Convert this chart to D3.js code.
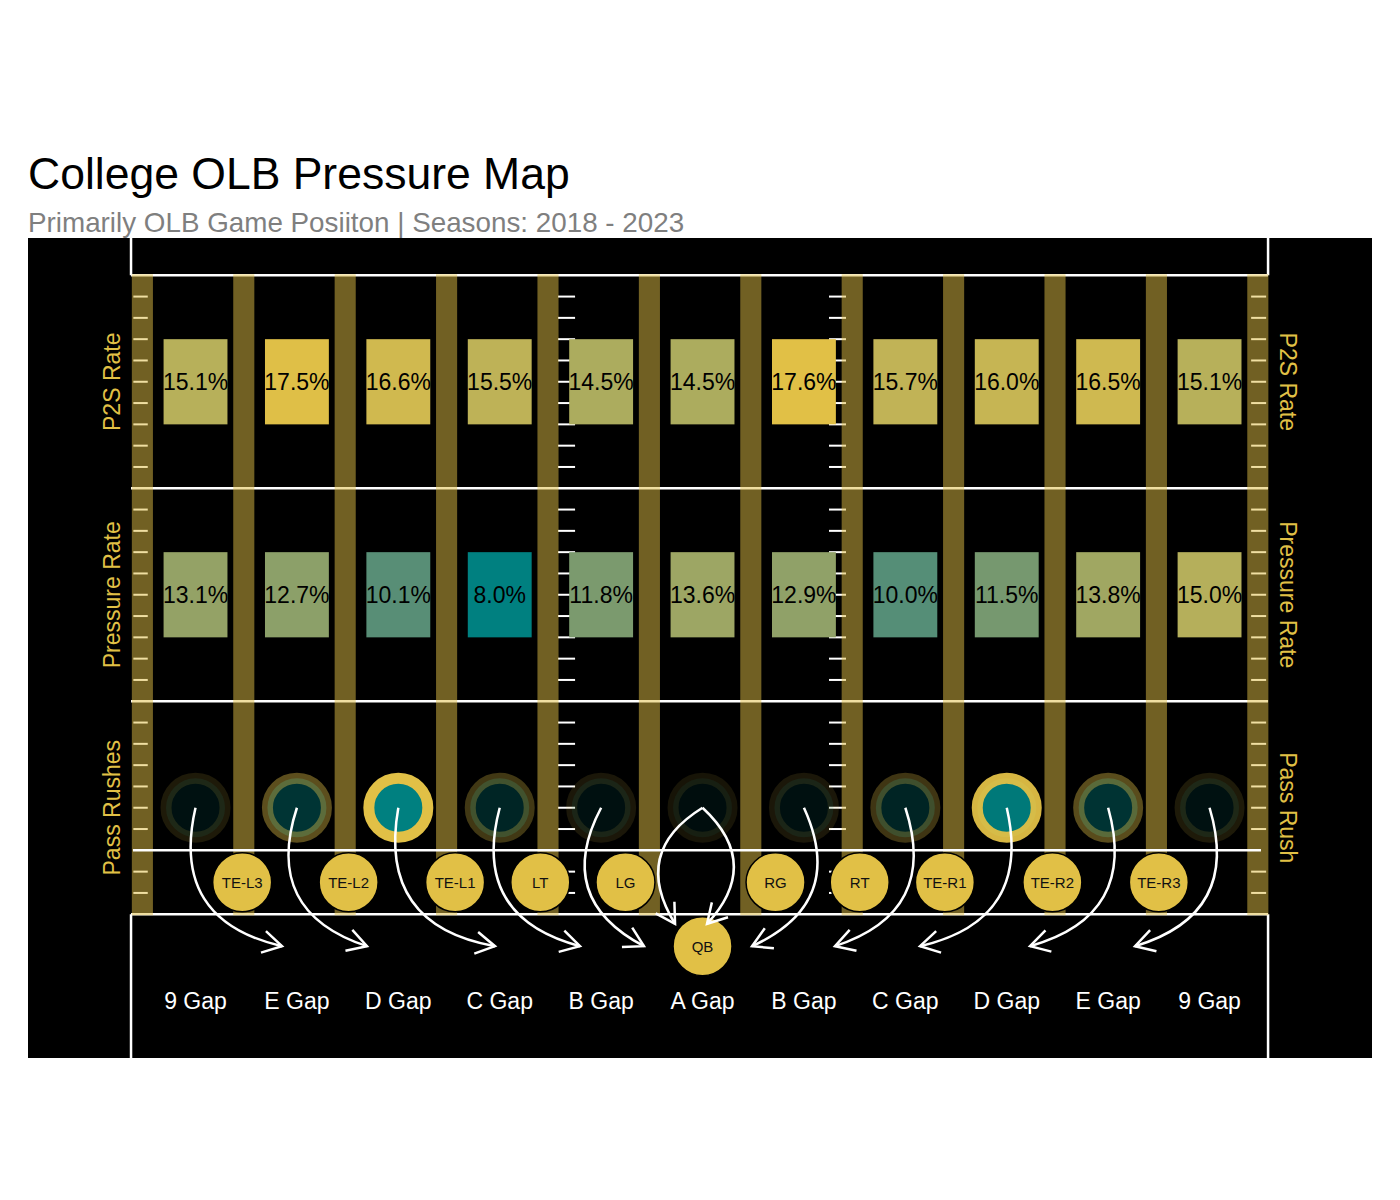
<!DOCTYPE html>
<html lang="en">
<head>
<meta charset="UTF-8">
<title>College OLB Pressure Map</title>
<script src="https://d3js.org/d3.v7.min.js"></script>
<style>
    body { margin: 0; background: #fff; }
    text { font-family: "Liberation Sans", Arial, Helvetica, sans-serif; }
</style>
</head>
<body>
<div id="chart"></div>
<script>
// gap columns, left to right
const gaps = ["9 Gap", "E Gap", "D Gap", "C Gap", "B Gap", "A Gap", "B Gap", "C Gap", "D Gap", "E Gap", "9 Gap"];
const gapPos = [1, 2, 3, 4, 5, 6, 7, 8, 9, 10, 11];
const p2sRate = [15.1, 17.5, 16.6, 15.5, 14.5, 14.5, 17.6, 15.7, 16.0, 16.5, 15.1];
const pressureRate = [13.1, 12.7, 10.1, 8.0, 11.8, 13.6, 12.9, 10.0, 11.5, 13.8, 15.0];
// pass rush volume (estimated, only shown through transparency)
const passRushes = [3100, 5700, 11300, 4600, 3000, 2800, 3000, 4500, 10800, 5600, 3100];

// offensive line
const linemen = ["TE-L3", "TE-L2", "TE-L1", "LT", "LG", "RG", "RT", "TE-R1", "TE-R2", "TE-R3"];
const linemenX = [1.46, 2.51, 3.56, 4.40, 5.24, 6.72, 7.55, 8.39, 9.45, 10.50];

// rush arrows: from gap column to end point
const arrowFrom = [1, 2, 3, 4, 5, 6, 6, 7, 8, 9, 10, 11];
const arrowToX = [1.853, 2.691, 3.953, 4.791, 5.422, 5.729, 6.044, 6.488, 7.306, 8.145, 9.230, 10.265];
const arrowToY = [31.5, 31.5, 31.5, 31.5, 31.5, 30.45, 30.45, 31.5, 31.5, 31.5, 31.5, 31.5];
const arrowBend = [1, 1, 1, 1, 1, 1, -1, -1, -1, -1, -1, -1];

// field lines (yards) and stripes
const yardLines = [0, 10, 20, 30];
const stripeX = d3.range(0, 12).map(k => 0.476 + k);
const tickYards = d3.range(1, 30).filter(d => d % 10 !== 0 && d !== 27);
const tickCols = [[0.387, 0.529], [4.575, 4.743], [7.247, 7.415], [11.41, 11.558]];

const gold = "#E1C046";
const teal = "#008080";

const W = 1400, H = 1200;
const svg = d3.select("#chart").append("svg")
    .attr("width", W).attr("height", H);

const x = d3.scaleLinear().domain([-0.652, 12.602]).range([28, 1372]);
const y = d3.scaleLinear().domain([-1.75, 36.75]).range([238, 1058]);

const fill = d3.scaleLinear().domain([8.0, 17.6]).range([teal, gold]).interpolate(d3.interpolateLab);
const alpha = d3.scaleLinear().domain(d3.extent(passRushes)).range([0.1, 1]);

const sideL = 0.364, sideR = 11.577;

// panel
svg.append("rect")
    .attr("x", x(-0.652)).attr("y", y(-1.75))
    .attr("width", x(12.602) - x(-0.652)).attr("height", y(36.75) - y(-1.75))
    .attr("fill", "black");

// yard lines
svg.selectAll(".yard").data(yardLines).enter().append("line")
    .attr("x1", x(sideL)).attr("x2", x(sideR))
    .attr("y1", d => y(d)).attr("y2", d => y(d))
    .attr("stroke", "white").attr("stroke-width", 2.5);

// sidelines in the end boxes
[sideL, sideR].forEach(s => {
    svg.append("line").attr("x1", x(s)).attr("x2", x(s))
        .attr("y1", y(-1.75)).attr("y2", y(0))
        .attr("stroke", "white").attr("stroke-width", 2.5);
    svg.append("line").attr("x1", x(s)).attr("x2", x(s))
        .attr("y1", y(30)).attr("y2", y(36.75))
        .attr("stroke", "white").attr("stroke-width", 2.5);
});

// hash marks
tickCols.forEach(c => {
    svg.selectAll(null).data(tickYards).enter().append("line")
        .attr("x1", x(c[0])).attr("x2", x(c[1]))
        .attr("y1", d => y(d)).attr("y2", d => y(d))
        .attr("stroke", "white").attr("stroke-width", 2);
});

// stripes
svg.selectAll(".stripe").data(stripeX).enter().append("rect")
    .attr("x", d => x(d - 0.104)).attr("width", x(0.208) - x(0))
    .attr("y", y(0) - 1).attr("height", y(30) - y(0) + 2)
    .attr("fill", gold).attr("fill-opacity", 0.5);

// line of scrimmage
svg.append("line")
    .attr("x1", x(0.383)).attr("x2", x(11.507))
    .attr("y1", y(27)).attr("y2", y(27))
    .attr("stroke", "white").attr("stroke-width", 2.5);

// tiles
function tileRow(values, y0, y1) {
    const g = svg.append("g");
    g.selectAll("rect").data(values).enter().append("rect")
        .attr("x", (d, i) => x(gapPos[i] - 0.315))
        .attr("width", x(0.63) - x(0))
        .attr("y", y(y0)).attr("height", y(y1) - y(y0))
        .attr("fill", d => fill(d));
    g.selectAll("text").data(values).enter().append("text")
        .attr("x", (d, i) => x(gapPos[i]))
        .attr("y", y((y0 + y1) / 2))
        .attr("dy", "0.36em")
        .attr("text-anchor", "middle")
        .attr("font-size", "23px")
        .attr("fill", "black")
        .text(d => d.toFixed(1) + "%");
}
tileRow(p2sRate, 3, 7);
tileRow(pressureRate, 13, 17);

// pass rush circles
svg.selectAll(".rush").data(passRushes).enter().append("circle")
    .attr("cx", (d, i) => x(gapPos[i])).attr("cy", y(25))
    .attr("r", 29.5)
    .attr("fill", teal).attr("fill-opacity", d => alpha(d))
    .attr("stroke", gold).attr("stroke-opacity", d => alpha(d))
    .attr("stroke-width", 11);

// linemen
const ol = svg.selectAll(".ol").data(linemen).enter().append("g");
ol.append("circle")
    .attr("cx", (d, i) => x(linemenX[i])).attr("cy", y(28.5))
    .attr("r", 29.5).attr("fill", gold)
    .attr("stroke", "black").attr("stroke-width", 1.5);
ol.append("text")
    .attr("x", (d, i) => x(linemenX[i])).attr("y", y(28.5))
    .attr("dy", "0.36em").attr("text-anchor", "middle")
    .attr("font-size", "15px").attr("fill", "#111")
    .text(d => d);

// QB
svg.append("circle").attr("cx", x(6)).attr("cy", y(31.5)).attr("r", 29.5)
    .attr("fill", gold).attr("stroke", "black").attr("stroke-width", 1.5);
svg.append("text").attr("x", x(6)).attr("y", y(31.5)).attr("dy", "0.36em")
    .attr("text-anchor", "middle").attr("font-size", "15px").attr("fill", "#111")
    .text("QB");

// arrows
arrowFrom.forEach((c, i) => {
    const x0 = x(c), y0 = y(25);
    const x1 = x(arrowToX[i]), y1 = y(arrowToY[i]);
    const dx = x1 - x0, dy = y1 - y0;
    const k = 0.5 * arrowBend[i];
    const cx = (x0 + x1) / 2 - k * dy, cy = (y0 + y1) / 2 + k * dx;
    const path = d3.path();
    path.moveTo(x0, y0);
    path.quadraticCurveTo(cx, cy, x1, y1);
    svg.append("path").attr("d", path.toString())
        .attr("fill", "none").attr("stroke", "white").attr("stroke-width", 2.5);
    // open arrow head
    const a = Math.atan2(y1 - cy, x1 - cx);
    const len = 22, spread = Math.PI / 6;
    const head = d3.path();
    head.moveTo(x1 - len * Math.cos(a - spread), y1 - len * Math.sin(a - spread));
    head.lineTo(x1, y1);
    head.lineTo(x1 - len * Math.cos(a + spread), y1 - len * Math.sin(a + spread));
    svg.append("path").attr("d", head.toString())
        .attr("fill", "none").attr("stroke", "white").attr("stroke-width", 2.5)
        .attr("stroke-linejoin", "miter");
});

// gap labels
svg.selectAll(".gap").data(gaps).enter().append("text")
    .attr("x", (d, i) => x(gapPos[i])).attr("y", y(34.07))
    .attr("dy", "0.36em").attr("text-anchor", "middle")
    .attr("font-size", "23px").attr("fill", "white")
    .text(d => d);

// side labels
const leftLabels = ["P2S Rate", "Pressure Rate", "Pass Rushes"];
const rightLabels = ["P2S Rate", "Pressure Rate", "Pass Rush"];
const labelYards = [5, 15, 25];
leftLabels.forEach((t, i) => {
    svg.append("text")
        .attr("transform", `translate(${x(0.255)},${y(labelYards[i])}) rotate(-90)`)
        .attr("text-anchor", "middle").attr("font-size", "23px").attr("fill", gold)
        .text(t);
});
rightLabels.forEach((t, i) => {
    svg.append("text")
        .attr("transform", `translate(${x(11.695)},${y(labelYards[i])}) rotate(90)`)
        .attr("text-anchor", "middle").attr("font-size", "23px").attr("fill", gold)
        .text(t);
});

// title
svg.append("text").attr("x", 28).attr("y", 189)
    .attr("font-size", "44.5px").attr("fill", "black")
    .text("College OLB Pressure Map");
svg.append("text").attr("x", 28).attr("y", 232)
    .attr("font-size", "27.8px").attr("fill", "#7f7f7f")
    .text("Primarily OLB Game Posiiton | Seasons: 2018 - 2023");
</script>
</body>
</html>
